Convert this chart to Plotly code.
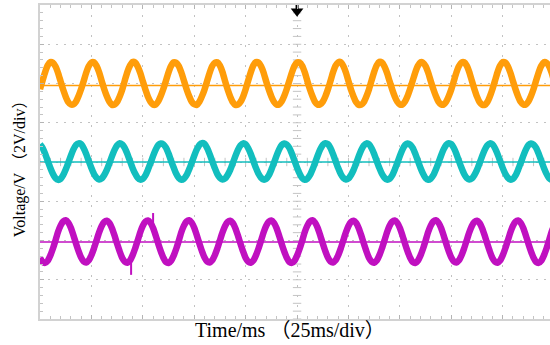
import numpy as np
import plotly.graph_objects as go

# ---------------- data (volts vs ms) ----------------
time_step_ms = 1.25
orange_v = [
    3.71, 4.15, 4.58, 4.92, 5.09, 5.06, 4.88, 4.55, 4.12, 3.69, 3.33, 3.05, 2.93, 2.94, 3.08, 3.36,
    3.72, 4.13, 4.56, 4.89, 5.07, 5.08, 4.90, 4.57, 4.13, 3.71, 3.35, 3.07, 2.91, 2.92, 3.06, 3.34,
    3.70, 4.16, 4.59, 4.91, 5.10, 5.07, 4.87, 4.54, 4.11, 3.70, 3.32, 3.06, 2.92, 2.93, 3.09, 3.37,
    3.73, 4.14, 4.57, 4.90, 5.08, 5.05, 4.89, 4.56, 4.14, 3.72, 3.36, 3.08, 2.94, 2.91, 3.07, 3.35,
    3.69, 4.12, 4.55, 4.89, 5.06, 5.08, 4.91, 4.58, 4.12, 3.69, 3.33, 3.05, 2.91, 2.92, 3.06, 3.33,
    3.71, 4.15, 4.58, 4.92, 5.09, 5.07, 4.88, 4.55, 4.10, 3.70, 3.34, 3.07, 2.93, 2.93, 3.08, 3.36,
    3.72, 4.14, 4.56, 4.90, 5.07, 5.06, 4.90, 4.57, 4.13, 3.71, 3.35, 3.06, 2.92, 2.94, 3.07, 3.34,
    3.70, 4.13, 4.57, 4.91, 5.08, 5.09, 4.89, 4.56, 4.12, 3.68, 3.33, 3.05, 2.91, 2.92, 3.06, 3.35,
    3.71, 4.16, 4.59, 4.93, 5.10, 5.07, 4.87, 4.54, 4.11, 3.70, 3.34, 3.07, 2.93, 2.93, 3.08, 3.36,
    3.73, 4.15, 4.57, 4.90, 5.08, 5.06, 4.89, 4.56, 4.13, 3.72, 3.36, 3.08, 2.94, 2.92, 3.07, 3.35,
    3.70, 4.13, 4.56, 4.89, 5.07, 5.08, 4.91, 4.58, 4.14, 3.71, 3.33, 3.05, 2.92, 2.91, 3.05, 3.34,
    3.71, 4.14, 4.58, 4.91, 5.09, 5.07, 4.88, 4.55, 4.12, 3.70, 3.34, 3.06, 2.93, 2.93, 3.08, 3.36,
    3.72, 4.15, 4.57, 4.90, 5.08, 5.06, 4.89, 4.56, 4.12,
]
teal_v = [
    0.90, 0.72, 0.42, 0.06, -0.29, -0.60, -0.82, -0.91, -0.86, -0.67, -0.38, -0.04, 0.32, 0.64, 0.87, 0.95,
    0.91, 0.70, 0.40, 0.04, -0.31, -0.61, -0.80, -0.89, -0.84, -0.66, -0.40, -0.06, 0.30, 0.62, 0.85, 0.96,
    0.89, 0.71, 0.41, 0.05, -0.30, -0.59, -0.81, -0.90, -0.86, -0.68, -0.39, -0.05, 0.31, 0.63, 0.86, 0.94,
    0.90, 0.73, 0.43, 0.06, -0.28, -0.60, -0.82, -0.91, -0.85, -0.67, -0.38, -0.04, 0.32, 0.64, 0.87, 0.96,
    0.92, 0.71, 0.40, 0.04, -0.31, -0.62, -0.81, -0.89, -0.84, -0.66, -0.40, -0.06, 0.30, 0.62, 0.85, 0.95,
    0.90, 0.70, 0.41, 0.05, -0.30, -0.60, -0.80, -0.90, -0.86, -0.68, -0.39, -0.05, 0.31, 0.63, 0.86, 0.94,
    0.89, 0.72, 0.42, 0.06, -0.29, -0.59, -0.82, -0.91, -0.85, -0.67, -0.38, -0.04, 0.32, 0.64, 0.87, 0.96,
    0.91, 0.71, 0.40, 0.04, -0.31, -0.61, -0.81, -0.89, -0.84, -0.66, -0.40, -0.06, 0.30, 0.62, 0.85, 0.95,
    0.90, 0.70, 0.41, 0.05, -0.30, -0.60, -0.80, -0.90, -0.86, -0.68, -0.39, -0.05, 0.31, 0.63, 0.86, 0.94,
    0.89, 0.72, 0.42, 0.06, -0.29, -0.59, -0.82, -0.91, -0.85, -0.67, -0.38, -0.04, 0.32, 0.64, 0.87, 0.96,
    0.91, 0.71, 0.41, 0.04, -0.31, -0.61, -0.81, -0.89, -0.84, -0.66, -0.40, -0.06, 0.30, 0.62, 0.85, 0.95,
    0.90, 0.70, 0.40, 0.05, -0.30, -0.60, -0.80, -0.90, -0.86, -0.68, -0.39, -0.05, 0.31, 0.63, 0.86, 0.94,
    0.89, 0.72, 0.42, 0.06, -0.29, -0.59, -0.82, -0.91, -0.85,
]
magenta_v = [
    -4.88, -5.09, -5.14, -5.03, -4.77, -4.42, -4.01, -3.57, -3.24, -3.03, -2.97, -3.09, -3.35, -3.73, -4.15, -4.54,
    -4.87, -5.07, -5.12, -5.01, -4.75, -4.40, -3.99, -3.59, -3.26, -3.05, -2.99, -3.11, -3.37, -3.75, -4.17, -4.56,
    -4.89, -5.08, -5.13, -5.02, -4.76, -4.41, -4.00, -3.58, -3.25, -3.04, -2.98, -3.10, -3.36, -3.74, -4.16, -4.55,
    -4.88, -5.10, -5.15, -5.03, -4.77, -4.42, -4.01, -3.57, -3.24, -3.03, -2.97, -3.09, -3.35, -3.73, -4.15, -4.54,
    -4.87, -5.07, -5.12, -5.01, -4.75, -4.40, -3.99, -3.59, -3.26, -3.05, -2.99, -3.11, -3.37, -3.75, -4.17, -4.56,
    -4.89, -5.08, -5.13, -5.02, -4.76, -4.41, -4.00, -3.58, -3.25, -3.04, -2.98, -3.10, -3.36, -3.74, -4.16, -4.55,
    -4.88, -5.09, -5.14, -5.03, -4.77, -4.42, -4.01, -3.57, -3.24, -3.03, -2.97, -3.09, -3.35, -3.73, -4.15, -4.54,
    -4.87, -5.07, -5.12, -5.01, -4.75, -4.40, -3.99, -3.59, -3.26, -3.05, -2.99, -3.11, -3.37, -3.75, -4.17, -4.56,
    -4.89, -5.08, -5.13, -5.02, -4.76, -4.41, -4.00, -3.58, -3.25, -3.04, -2.98, -3.10, -3.36, -3.74, -4.16, -4.55,
    -4.88, -5.10, -5.15, -5.03, -4.77, -4.42, -4.01, -3.57, -3.24, -3.03, -2.97, -3.09, -3.35, -3.73, -4.15, -4.54,
    -4.87, -5.07, -5.12, -5.01, -4.75, -4.40, -3.99, -3.59, -3.26, -3.05, -2.99, -3.11, -3.37, -3.75, -4.17, -4.56,
    -4.89, -5.08, -5.13, -5.02, -4.76, -4.41, -4.00, -3.58, -3.25, -3.04, -2.98, -3.10, -3.36, -3.74, -4.16, -4.55,
    -4.88, -5.09, -5.14, -5.03, -4.77, -4.42, -4.01, -3.57, -3.24,
]
channel_offsets = [3.9, 0.0, -4.08]          # orange, teal, magenta ground levels (V)
spike_t = [44.3, 55.0]                        # glitches on the magenta channel (ms)
spike_base = [-4.9, -3.3]
spike_peak = [-5.75, -2.6]
trigger_t = 125.0
x_title = "Time/ms （25ms/div）"
y_title = "Voltage/V （2V/div）"

colors = ["#FF9D0A", "#12BEBE", "#C010C0"]

t = np.arange(len(orange_v)) * time_step_ms

fig = go.Figure()

# center-line subdivision ticks
fig.add_trace(go.Scatter(x=[trigger_t] * 41, y=np.arange(-8, 8.01, 0.4), mode="markers",
                         marker=dict(symbol="line-ew", size=6, line=dict(color="#c4c4c4", width=1)),
                         hoverinfo="skip", showlegend=False))
fig.add_trace(go.Scatter(x=np.arange(0, 250, 5), y=[0] * 50, mode="markers",
                         marker=dict(symbol="line-ns", size=6, line=dict(color="#c4c4c4", width=1)),
                         hoverinfo="skip", showlegend=False))

for vals, off, col in zip([orange_v, teal_v, magenta_v], channel_offsets, colors):
    fig.add_trace(go.Scatter(x=[0, 250], y=[off, off], mode="lines",
                             line=dict(color=col, width=1.5), hoverinfo="skip", showlegend=False))
    fig.add_trace(go.Scatter(x=t, y=vals, mode="lines",
                             line=dict(color=col, width=6.5, shape="spline", smoothing=0.6),
                             showlegend=False))
    fig.add_trace(go.Scatter(x=[-1.4], y=[off], mode="markers", cliponaxis=False,
                             marker=dict(symbol="triangle-right", size=7, color=col),
                             hoverinfo="skip", showlegend=False))

# magenta glitches
sx, sy = [], []
for st, sb, sp in zip(spike_t, spike_base, spike_peak):
    sx += [st, st, None]
    sy += [sb, sp, None]
fig.add_trace(go.Scatter(x=sx, y=sy, mode="lines", line=dict(color=colors[2], width=2),
                         showlegend=False))

# trigger marker
fig.add_trace(go.Scatter(x=[trigger_t, trigger_t], y=[8, 7.75], mode="lines",
                         line=dict(color="black", width=3), showlegend=False, hoverinfo="skip"))
fig.add_trace(go.Scatter(x=[trigger_t], y=[7.68], mode="markers", cliponaxis=False,
                         marker=dict(symbol="triangle-down", size=11, color="black"),
                         showlegend=False, hoverinfo="skip"))

fig.update_xaxes(range=[0, 248], dtick=25, tick0=0, showticklabels=False,
                 showgrid=True, gridcolor="#c2c2c2", gridwidth=1, griddash="2px,8px",
                 ticks="inside", ticklen=4, tickcolor="#b4b4b4",
                 minor=dict(dtick=5, ticks="inside", ticklen=3, tickcolor="#c4c4c4", showgrid=False),
                 showline=True, linecolor="#d2d2d2", linewidth=2, mirror="ticks", zeroline=False)
fig.update_yaxes(range=[-8, 8], dtick=2, tick0=0, showticklabels=False,
                 showgrid=True, gridcolor="#c2c2c2", gridwidth=1, griddash="2px,6px",
                 ticks="inside", ticklen=4, tickcolor="#b4b4b4",
                 minor=dict(dtick=0.4, ticks="inside", ticklen=3, tickcolor="#c4c4c4", showgrid=False),
                 showline=True, linecolor="#d2d2d2", linewidth=2, zeroline=False)

fig.update_layout(
    width=550, height=345,
    margin=dict(l=40, r=0, t=5, b=26),
    plot_bgcolor="white", paper_bgcolor="white",
    annotations=[
        dict(text=x_title, xref="paper", yref="paper", x=0.49, y=-0.036,
             xanchor="center", yanchor="middle", showarrow=False,
             font=dict(family="Liberation Serif, Noto Sans CJK SC", size=20, color="black")),
        dict(text=y_title, xref="paper", yref="paper", x=-0.039, y=0.49,
             xanchor="center", yanchor="middle", showarrow=False, textangle=-90,
             font=dict(family="Liberation Serif, Noto Sans CJK SC", size=16, color="black")),
    ],
)

fig.write_html("out.html", config={"displayModeBar": False},
               post_script="document.body.style.margin='0';document.body.style.overflow='hidden';")
